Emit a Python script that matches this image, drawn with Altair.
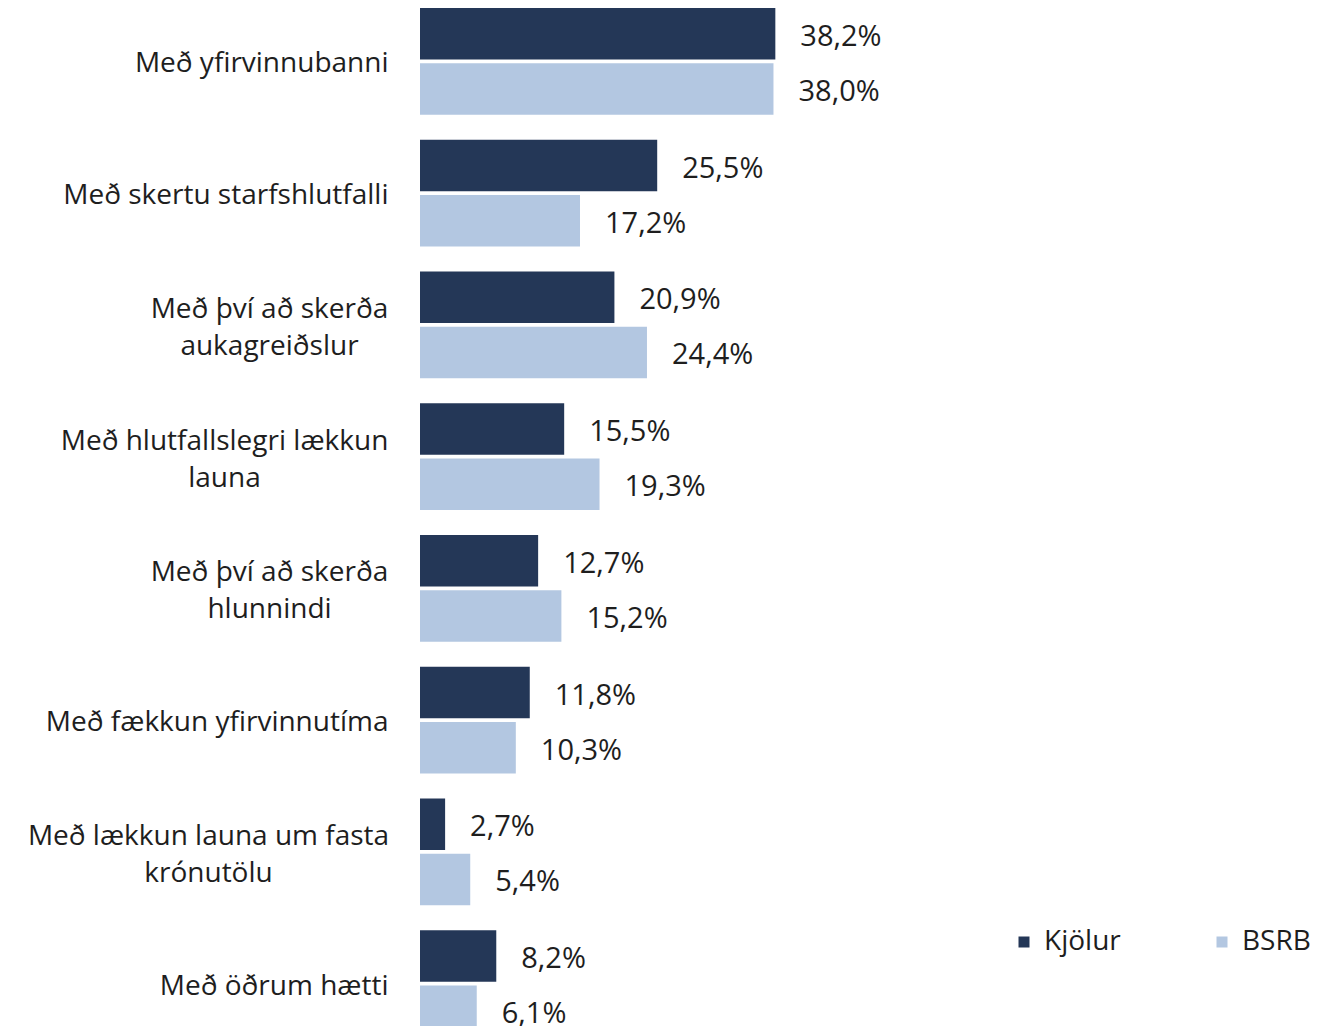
import altair as alt
import pandas as pd

categories = [
    "Með yfirvinnubanni",
    "Með skertu starfshlutfalli",
    "Með því að skerða\naukagreiðslur",
    "Með hlutfallslegri lækkun\nlauna",
    "Með því að skerða\nhlunnindi",
    "Með fækkun yfirvinnutíma",
    "Með lækkun launa um fasta\nkrónutölu",
    "Með öðrum hætti",
]
series = ["Kjölur", "BSRB"]
kjolur = [38.2, 25.5, 20.9, 15.5, 12.7, 11.8, 2.7, 8.2]
bsrb = [38.0, 17.2, 24.4, 19.3, 15.2, 10.3, 5.4, 6.1]
colors = ["#243757", "#b3c7e1"]

rows = []
for c, k, b in zip(categories, kjolur, bsrb):
    rows.append({"cat": c, "series": series[0], "value": k})
    rows.append({"cat": c, "series": series[1], "value": b})
df = pd.DataFrame(rows)

FONT = "Open Sans"
TXT = "#1e1e1e"
FS = 28

y = alt.Y(
    "cat:N",
    sort=categories,
    title=None,
    scale=alt.Scale(paddingInner=0.19, paddingOuter=0, range=[0, 1029]),
    axis=alt.Axis(
        domain=False,
        ticks=False,
        labelFont=FONT,
        labelFontSize=FS,
        labelColor=TXT,
        labelExpr="split(datum.label, '\\n')",
        labelLineHeight=37,
        labelLimit=600,
        labelAlign={
            "condition": {"test": "indexof(datum.value, '\\n') >= 0", "value": "center"},
            "value": "right",
        },
        labelOffset={
            "condition": {"test": "indexof(datum.value, '\\n') >= 0", "value": -15},
            "value": 3,
        },
        labelPadding={
            "condition": [
                {"test": "indexof(datum.value, 'aukagrei') >= 0 || indexof(datum.value, 'hlunnindi') >= 0", "value": 151},
                {"test": "indexof(datum.value, 'hlutfallslegri') >= 0", "value": 196},
                {"test": "indexof(datum.value, 'krónutölu') >= 0", "value": 212},
            ],
            "value": 32,
        },
    ),
)
yoff = alt.YOffset("series:N", sort=series, scale=alt.Scale(paddingInner=0.065, paddingOuter=0))
x = alt.X("value:Q", scale=alt.Scale(domain=[0, 96], nice=False), axis=None)

base = alt.Chart(df).encode(x=x, y=y, yOffset=yoff)

bars = base.mark_bar().encode(
    color=alt.Color(
        "series:N",
        sort=series,
        scale=alt.Scale(domain=series, range=colors),
        legend=alt.Legend(
            title=None,
            orient="none",
            direction="horizontal",
            legendX=590,
            legendY=920,
            symbolType="square",
            symbolSize=121,
            symbolStrokeWidth=0,
            labelFont=FONT,
            labelFontSize=FS,
            labelColor=TXT,
            labelOffset=6,
            columnPadding=87,
            padding=0,
        ),
    )
)

labels = base.transform_calculate(
    label="replace(format(datum.value, '.1f'), '.', ',') + '%'"
).mark_text(align="left", baseline="middle", dx=25, dy=3, font=FONT, fontSize=29, color=TXT).encode(
    text="label:N"
)

chart = (
    alt.layer(bars, labels)
    .properties(
        width=893,
        height=1018,
        autosize="none",
        padding={"left": 412, "top": 0, "right": 0, "bottom": 0},
        background="white",
    )
    .configure_view(stroke=None)
)

chart.save("out.html", embed_options={"renderer": "svg", "actions": False})
